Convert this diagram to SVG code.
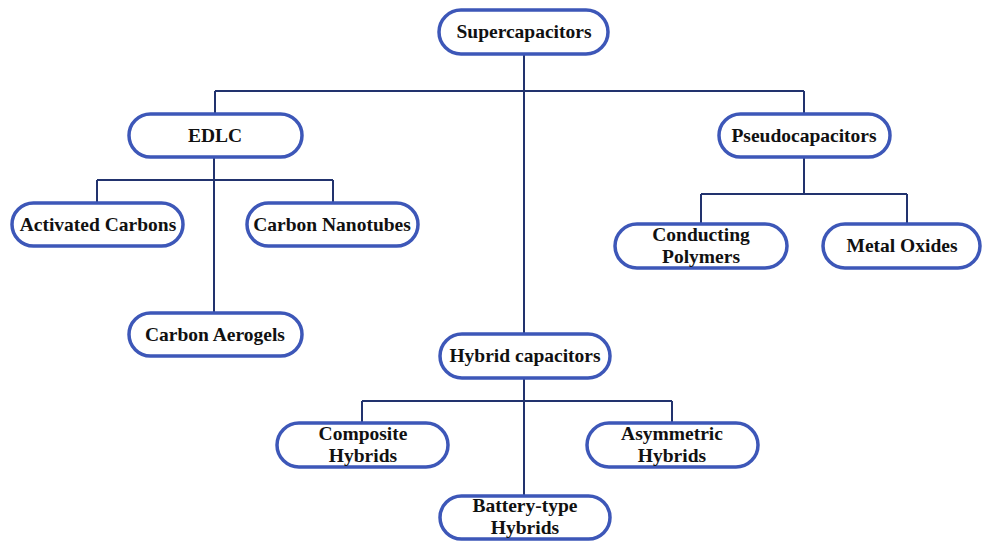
<svg xmlns="http://www.w3.org/2000/svg" width="983" height="541" viewBox="0 0 983 541">
<style>
.box{fill:#fff;stroke:#3d57b8;stroke-width:3.5}
.lbl{font-family:'Liberation Serif','Times New Roman',serif;font-weight:bold;font-size:19.5px;fill:#111;text-anchor:middle}
.con{fill:none;stroke:#22336e;stroke-width:2}
</style>
<rect width="983" height="541" fill="#fff"/>
<g id="connectors" class="con">
<path d="M524 54 V334"/>
<path d="M215 91 H804 M215 91 V114 M804 91 V114"/>
<path d="M214 156 V313 M97 180 H333 M97 180 V203 M333 180 V203"/>
<path d="M804 156 V194 M701 194 H907 M701 194 V224 M907 194 V224"/>
<path d="M524 378 V496 M362 401 H672 M362 401 V423 M672 401 V423"/>
</g>
<g id="supercapacitors"><rect class="box" x="439" y="10" width="169" height="44" rx="22"/><text class="lbl" x="524" y="38">Supercapacitors</text></g>
<g id="edlc"><rect class="box" x="129" y="114" width="173" height="43" rx="21.5"/><text class="lbl" x="215" y="142">EDLC</text></g>
<g id="pseudocapacitors"><rect class="box" x="719" y="114" width="171" height="43" rx="21.5"/><text class="lbl" x="804" y="142">Pseudocapacitors</text></g>
<g id="activated-carbons"><rect class="box" x="12" y="203" width="171" height="43" rx="21.5"/><text class="lbl" x="98" y="231">Activated Carbons</text></g>
<g id="carbon-nanotubes"><rect class="box" x="247" y="203" width="171" height="43" rx="21.5"/><text class="lbl" x="332" y="231">Carbon Nanotubes</text></g>
<g id="carbon-aerogels"><rect class="box" x="129" y="313" width="173" height="43" rx="21.5"/><text class="lbl" x="215" y="341">Carbon Aerogels</text></g>
<g id="conducting-polymers"><rect class="box" x="615" y="224" width="172" height="44" rx="22"/><text class="lbl" x="701" y="241">Conducting</text><text class="lbl" x="701" y="263">Polymers</text></g>
<g id="metal-oxides"><rect class="box" x="823" y="224" width="157" height="44" rx="22"/><text class="lbl" x="902" y="252">Metal Oxides</text></g>
<g id="hybrid-capacitors"><rect class="box" x="440" y="334" width="170" height="44" rx="22"/><text class="lbl" x="525" y="362">Hybrid capacitors</text></g>
<g id="composite-hybrids"><rect class="box" x="277" y="423" width="171" height="44" rx="22"/><text class="lbl" x="363" y="440">Composite</text><text class="lbl" x="363" y="462">Hybrids</text></g>
<g id="asymmetric-hybrids"><rect class="box" x="587" y="423" width="171" height="44" rx="22"/><text class="lbl" x="672" y="440">Asymmetric</text><text class="lbl" x="672" y="462">Hybrids</text></g>
<g id="battery-type-hybrids"><rect class="box" x="440" y="496" width="170" height="43" rx="21.5"/><text class="lbl" x="525" y="512">Battery-type</text><text class="lbl" x="525" y="534">Hybrids</text></g>
</svg>
